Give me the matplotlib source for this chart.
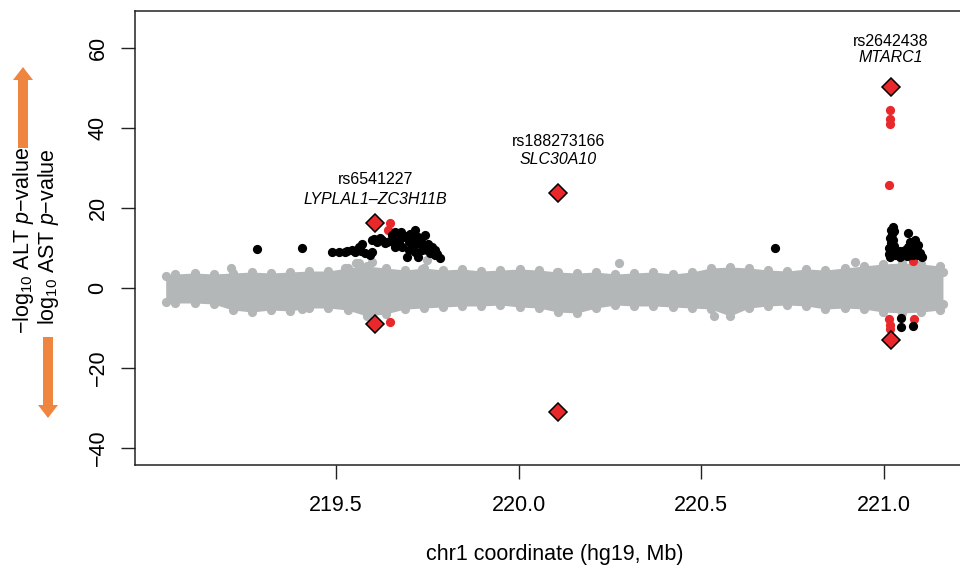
import matplotlib
matplotlib.use('Agg')
import matplotlib.pyplot as plt
from matplotlib.patches import FancyArrow

plt.rcParams['font.family'] = ['Liberation Sans', 'DejaVu Sans']
plt.rcParams['mathtext.fontset'] = 'custom'
plt.rcParams['mathtext.rm'] = 'Liberation Sans'
plt.rcParams['mathtext.it'] = 'Liberation Sans:italic'

# gray band of non-significant SNPs: upper / lower envelope
band_x = [219.034, 219.060, 219.113, 219.165, 219.217, 219.270, 219.322, 219.374, 219.427,
          219.479, 219.532, 219.584, 219.636, 219.689, 219.741, 219.793, 219.846, 219.898,
          219.950, 220.003, 220.055, 220.107, 220.160, 220.212, 220.265, 220.317, 220.369,
          220.422, 220.474, 220.526, 220.579, 220.631, 220.683, 220.736, 220.788, 220.840,
          220.893, 220.945, 220.997, 221.050, 221.102, 221.155, 221.162]
band_hi = [3.0, 3.5, 3.75, 3.5, 3.75, 4.0, 3.75, 4.0, 4.25, 4.25,
           5.0, 5.5, 5.0, 4.5, 5.0, 4.5, 4.75, 4.25, 4.5, 4.75,
           4.5, 4.0, 3.75, 4.0, 3.5, 3.75, 4.0, 3.5, 4.0, 5.0,
           5.25, 5.0, 4.5, 4.25, 4.75, 4.5, 5.0, 5.5, 6.0, 6.25,
           6.0, 5.5, 4.0]
band_lo = [-3.5, -3.75, -3.75, -4.0, -5.5, -6.0, -5.5, -5.75, -5.0, -5.0,
           -5.5, -7.0, -6.5, -5.25, -5.0, -4.75, -4.5, -4.5, -4.25, -4.75,
           -5.0, -6.0, -6.25, -5.0, -4.25, -4.5, -4.5, -4.75, -5.0, -5.25,
           -7.0, -5.0, -4.5, -4.25, -4.5, -5.25, -5.0, -5.25, -6.0, -6.25,
           -6.0, -5.5, -4.0]

# single gray outliers
gray_x = [219.213, 219.408, 219.526, 219.554, 219.563, 219.599, 219.735, 219.749,
          220.104, 220.275, 220.535, 220.922]
gray_y = [4.9, -5.3, 4.9, 6.2, 6.2, 6.6, 4.7, 7.0, 4.1, 6.3, -7.0, 6.6]

# significant SNPs (black)
black_x = [219.283, 219.408, 219.488, 219.508, 219.525, 219.531, 219.545, 219.552, 219.563,
           219.568, 219.572, 219.580, 219.593, 219.600, 219.600, 219.605, 219.613, 219.621,
           219.626, 219.634, 219.640, 219.647, 219.654, 219.661, 219.661, 219.668, 219.672,
           219.678, 219.681, 219.685, 219.689, 219.695, 219.699, 219.699, 219.704, 219.708,
           219.710, 219.717, 219.717, 219.720, 219.726, 219.726, 219.730, 219.736, 219.736,
           219.741, 219.744, 219.749, 219.751, 219.753, 219.758, 219.763, 219.771, 219.771,
           219.778, 219.785,
           220.703,
           221.024, 221.019, 221.028, 221.022, 221.017, 221.026, 221.020, 221.028, 221.015,
           221.024, 221.013, 221.030, 221.018,
           221.036, 221.045, 221.045, 221.054, 221.058, 221.063, 221.067, 221.072, 221.076,
           221.081, 221.085, 221.090, 221.094, 221.099, 221.104, 221.094, 221.080,
           221.067, 221.072, 221.085, 221.076,
           221.046, 221.046, 221.081]
black_y = [9.8, 10.1, 8.9, 8.9, 9.1, 9.2, 9.5, 9.0, 10.3,
           9.3, 10.9, 8.75, 8.25, 9.1, 12.0, 12.2, 11.6, 12.5,
           12.0, 11.2, 11.6, 11.8, 13.25, 14.1, 10.3, 12.3, 11.2,
           14.0, 10.3, 12.8, 13.0, 7.7, 11.6, 9.5, 13.5, 9.9,
           12.5, 14.5, 9.1, 11.0, 12.8, 7.7, 12.0, 11.2, 9.5,
           10.5, 13.25, 9.5, 11.0, 10.75, 8.7, 10.3, 9.5, 8.25,
           8.5, 7.4,
           10.0,
           15.3, 14.6, 14.2, 13.5, 12.6, 12.0, 11.2, 10.5, 10.0,
           9.3, 8.6, 8.2, 7.8,
           9.1, 7.8, 9.3, 8.7, 9.5, 8.0, 10.2, 8.25, 9.6,
           10.8, 11.2, 9.5, 10.75, 8.7, 7.8, 8.2, 8.3,
           13.7, 11.5, 11.9, 11.0,
           -7.6, -9.7, -9.5]

# SNPs in LD with the lead variants (red)
red_x = [219.649, 219.643, 219.649, 221.016, 221.016, 221.016, 221.013, 221.079,
         221.013, 221.016, 221.016, 221.083]
red_y = [16.3, 14.5, -8.4, 44.5, 42.25, 41.0, 25.75, 6.8,
         -7.75, -9.25, -10.3, -7.75]

# lead variants (diamonds), ALT above and AST below
lead_x = [219.608, 220.109, 221.020]
lead_alt = [16.3, 23.75, 50.25]
lead_ast = [-9.0, -31.0, -13.0]
lead_rs = ['rs6541227', 'rs188273166', 'rs2642438']
lead_gene = ['LYPLAL1\u2013ZC3H11B', 'SLC30A10', 'MTARC1']
rs_y = [27.0, 36.75, 61.75]
gene_y = [22.25, 32.25, 57.6]

gray = '#b4b7b8'
red = '#e8282b'
orange = '#ee8640'

fig = plt.figure(figsize=(9.6, 5.66), dpi=100)
ax = fig.add_axes([135 / 960, 1 - 464.8 / 566, 839 / 960, 453.6 / 566])

ax.fill_between(band_x, band_lo, band_hi, color=gray, lw=0, zorder=1)
ax.scatter(band_x + band_x, band_hi + band_lo, s=44, color=gray, lw=0, zorder=1)
ax.scatter(gray_x, gray_y, s=44, color=gray, lw=0, zorder=1)
ax.scatter(red_x, red_y, s=44, color=red, lw=0, zorder=2)
ax.scatter(black_x, black_y, s=44, color='black', lw=0, zorder=3)
ax.plot(lead_x, lead_alt, 'D', ms=9.5, mfc=red, mec='black', mew=1.1, zorder=4, ls='none')
ax.plot(lead_x, lead_ast, 'D', ms=9.5, mfc=red, mec='black', mew=1.1, zorder=4, ls='none')

for x, r, g, ry, gy in zip(lead_x, lead_rs, lead_gene, rs_y, gene_y):
    ax.text(x, ry, r, ha='center', va='center', fontsize=11.5)
    ax.text(x, gy, g, ha='center', va='center', fontsize=11.5, style='italic')

ax.set_xlim(218.95, 221.247)
ax.set_ylim(-44.2, 69.2)
ax.set_xticks([219.5, 220.0, 220.5, 221.0])
ax.set_xticklabels(['219.5', '220.0', '220.5', '221.0'])
ax.set_yticks([-40, -20, 0, 20, 40, 60])
ax.tick_params(axis='both', length=10, width=1, labelsize=15.5, color='#222222')
ax.tick_params(axis='x', pad=12)
ax.tick_params(axis='y', pad=9)
for lbl in ax.get_yticklabels():
    lbl.set_rotation(90)
    lbl.set_va('center')
for s in ax.spines.values():
    s.set_linewidth(1.1)
    s.set_color('#222222')
ax.set_xlabel('chr1 coordinate (hg19, Mb)', fontsize=15.5, labelpad=20)

fig.text(24 / 960, 1 - 240 / 566, '\u2212log$_{10}$ ALT $p$\u2212value', rotation=90,
         ha='center', va='center', fontsize=15.5)
fig.text(49 / 960, 1 - 237 / 566, 'log$_{10}$ AST $p$\u2212value', rotation=90,
         ha='center', va='center', fontsize=15.5)

ov = fig.add_axes([0, 0, 1, 1], zorder=-1)
ov.set_xlim(0, 960)
ov.set_ylim(566, 0)
ov.axis('off')
ov.add_patch(FancyArrow(23, 148, 0, -81, width=10, head_width=20, head_length=13,
                        length_includes_head=True, color=orange, lw=0))
ov.add_patch(FancyArrow(48, 337, 0, 81, width=10, head_width=20, head_length=13,
                        length_includes_head=True, color=orange, lw=0))

fig.savefig('out.png', dpi=100)
